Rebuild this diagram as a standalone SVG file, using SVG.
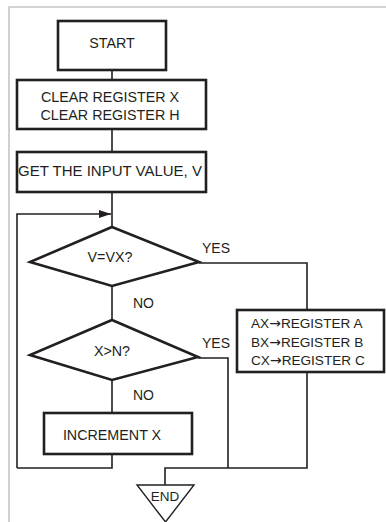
<svg xmlns="http://www.w3.org/2000/svg" width="386" height="522" viewBox="0 0 386 522">
<style>
.box{fill:#fff;stroke:#231f20;stroke-width:2.6}
.ln{fill:none;stroke:#231f20;stroke-width:1.6}
.t{font-family:"Liberation Sans",Arial,sans-serif;font-size:14.3px;fill:#231f20;text-anchor:middle}
.l{font-family:"Liberation Sans",Arial,sans-serif;font-size:14px;fill:#231f20}
.a{font-family:"DejaVu Sans",sans-serif;font-size:14px}
.frame{fill:none;stroke:#c4c6c4;stroke-width:1.6}
</style>
<defs>
<marker id="arr" markerWidth="12" markerHeight="8" refX="12" refY="4" orient="auto" markerUnits="userSpaceOnUse">
<path d="M0,0 L12,4 L0,8 Z" fill="#231f20"/>
</marker>
</defs>
<path class="frame" d="M9,522 V7 H386"/>
<g id="connectors">
<path class="ln" d="M112,70 V80"/>
<path class="ln" d="M112,129 V152"/>
<path class="ln" d="M112,192 V227"/>
<path class="ln" d="M17,468 V214 H111" marker-end="url(#arr)"/>
<path class="ln" d="M112,286 V320"/>
<path class="ln" d="M199,263 H307 V310"/>
<path class="ln" d="M112,380 V413"/>
<path class="ln" d="M198,358 H228 V468"/>
<path class="ln" d="M112,454 V468 H17"/>
<path class="ln" d="M307,372 V468 H165 V485"/>
</g>
<g id="start">
<rect class="box" x="58" y="21" width="108" height="49"/>
<text class="t" x="112" y="48">START</text>
</g>
<g id="clear">
<rect class="box" x="17" y="80" width="189" height="49"/>
<text class="t" x="110" y="102">CLEAR REGISTER X</text>
<text class="t" x="110" y="120">CLEAR REGISTER H</text>
</g>
<g id="get">
<rect class="box" x="17" y="152" width="189" height="40"/>
<text class="t" x="110" y="176" style="font-size:15px">GET THE INPUT VALUE, V</text>
</g>
<g id="dec1">
<polygon class="box" points="112,227 199,262 112,286 30,262"/>
<text class="t" x="110" y="262">V=VX?</text>
<text class="l" x="202" y="253">YES</text>
<text class="l" x="133" y="308">NO</text>
</g>
<g id="dec2">
<polygon class="box" points="112,320 198,357 112,380 30,355"/>
<text class="t" x="112" y="356">X&gt;N?</text>
<text class="l" x="202" y="348">YES</text>
<text class="l" x="133" y="400">NO</text>
</g>
<g id="assign">
<rect class="box" x="237" y="310" width="147" height="62"/>
<text class="l" x="251" y="328" style="font-size:13.6px">AX<tspan class="a">→</tspan>REGISTER A</text>
<text class="l" x="251" y="347" style="font-size:13.6px">BX<tspan class="a">→</tspan>REGISTER B</text>
<text class="l" x="251" y="365" style="font-size:13.6px">CX<tspan class="a">→</tspan>REGISTER C</text>
</g>
<g id="increment">
<rect class="box" x="44" y="413" width="148" height="41"/>
<text class="t" x="112" y="440">INCREMENT X</text>
</g>
<g id="end">
<polygon points="137,485 194,485 165.5,522" fill="#fff" stroke="#231f20" stroke-width="1.4"/>
<text class="t" x="165" y="501" style="font-size:13.5px">END</text>
</g>
</svg>
